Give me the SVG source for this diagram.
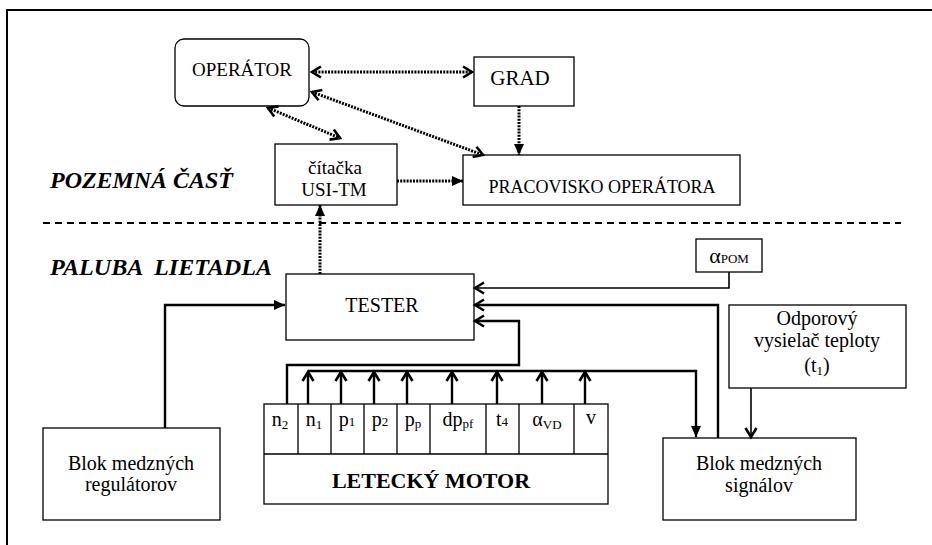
<svg xmlns="http://www.w3.org/2000/svg" width="932" height="545" viewBox="0 0 932 545">
<style>
text{font-family:"Liberation Serif","Times New Roman",serif;fill:#000;text-anchor:middle}
.box{fill:#fff;stroke:#000;stroke-width:1.3}
.t19{font-size:19px}
.t20{font-size:20px}
.sub{font-size:13px}
.lbl{font-size:23px;font-weight:bold;font-style:italic;text-anchor:start}
.dot{fill:none;stroke:#000;stroke-width:3;stroke-dasharray:2 1.2}
.sol{fill:none;stroke:#000;stroke-width:2.4}
.thin{fill:none;stroke:#000;stroke-width:1.6}
</style>
<defs>
<marker id="open" markerUnits="userSpaceOnUse" markerWidth="14" markerHeight="14" refX="11" refY="7" orient="auto-start-reverse" overflow="visible">
<path d="M2,1.5 L11,7 L2,12.5" fill="none" stroke="#000" stroke-width="2.6"/>
</marker>
<marker id="fill" markerUnits="userSpaceOnUse" markerWidth="12" markerHeight="10" refX="11" refY="5" orient="auto" overflow="visible">
<path d="M0,0 L11,5 L0,10 z" fill="#000"/>
</marker>
</defs>
<rect width="932" height="545" fill="#fff"/>
<path d="M7,545 L7,10 L932,10" fill="none" stroke="#000" stroke-width="2"/>
<line x1="43" y1="223" x2="901" y2="223" stroke="#000" stroke-width="2" stroke-dasharray="7 5"/>
<text class="lbl" x="50" y="188" textLength="183" lengthAdjust="spacingAndGlyphs">POZEMNÁ ČASŤ</text>
<text class="lbl" x="50" y="275" xml:space="preserve" textLength="222" lengthAdjust="spacingAndGlyphs">PALUBA  LIETADLA</text>

<g id="operator"><rect class="box" x="175" y="39" width="134" height="67" rx="9"/><text class="t19" x="242" y="76">OPERÁTOR</text></g>
<g id="grad"><rect class="box" x="474" y="57" width="100" height="49"/><text style="font-size:21px" x="520" y="85">GRAD</text></g>
<g id="citacka"><rect class="box" x="275" y="144" width="122" height="61"/><text class="t19" x="335" y="174">čítačka</text><text class="t19" x="334" y="196">USI-TM</text></g>
<g id="pracovisko"><rect class="box" x="463" y="155" width="277" height="50"/><text style="font-size:18px" x="602" y="193">PRACOVISKO OPERÁTORA</text></g>
<g id="tester"><rect class="box" x="286" y="274" width="188" height="66"/><text class="t20" x="382" y="312">TESTER</text></g>
<g id="alfa-pom"><rect class="box" x="696" y="239" width="66" height="33"/><text x="729" y="263"><tspan style="font-size:22px">α</tspan><tspan class="sub">POM</tspan></text></g>
<g id="odporovy"><rect class="box" x="729" y="305" width="177" height="83"/><text class="t20" x="817" y="325">Odporový</text><text class="t20" x="817" y="347">vysielač teploty</text><text class="t20" x="817" y="372">(t<tspan class="sub" dy="3">1</tspan><tspan dy="-3">)</tspan></text></g>
<g id="blok-regulatorov"><rect class="box" x="43" y="428" width="177" height="92"/><text class="t20" x="131" y="470">Blok medzných</text><text class="t20" x="131" y="491">regulátorov</text></g>
<g id="blok-signalov"><rect class="box" x="663" y="438" width="193" height="82"/><text class="t20" x="759" y="470">Blok medzných</text><text class="t20" x="759" y="492">signálov</text></g>
<g id="letecky-motor">
<rect class="box" x="264" y="404" width="344" height="100"/>
<path d="M264,454 H608 M298,404 V454 M331,404 V454 M364,404 V454 M397,404 V454 M430,404 V454 M486,404 V454 M519,404 V454 M574,404 V454" stroke="#000" stroke-width="1.3" fill="none"/>
<text x="431" y="488" style="font-size:22px;font-weight:bold">LETECKÝ MOTOR</text>
<text class="t20" x="280" y="426">n<tspan class="sub" dy="3">2</tspan></text>
<text class="t20" x="314" y="426">n<tspan class="sub" dy="3">1</tspan></text>
<text class="t20" x="347" y="426">p<tspan class="sub" dy="0">1</tspan></text>
<text class="t20" x="380" y="426">p<tspan class="sub" dy="0">2</tspan></text>
<text class="t20" x="413" y="426">p<tspan class="sub" dy="2">p</tspan></text>
<text class="t20" x="458" y="426">dp<tspan class="sub" dy="2">pf</tspan></text>
<text class="t20" x="502" y="426">t<tspan class="sub" dy="0">4</tspan></text>
<text class="t20" x="547" y="426">α<tspan class="sub" dy="3">VD</tspan></text>
<text class="t20" x="591" y="424">v</text>
</g>

<g id="connectors">
<line class="dot" x1="312" y1="72" x2="472" y2="72" marker-start="url(#open)" marker-end="url(#open)"/>
<line class="dot" x1="312" y1="92" x2="483" y2="155" marker-start="url(#open)" marker-end="url(#open)"/>
<line class="dot" x1="268" y1="108" x2="340" y2="138" marker-start="url(#open)" marker-end="url(#open)"/>
<line class="dot" x1="397" y1="181" x2="463" y2="181" marker-end="url(#fill)"/>
<line class="dot" x1="519" y1="106" x2="519" y2="155" marker-end="url(#fill)"/>
<line class="dot" x1="320" y1="274" x2="320" y2="205" marker-end="url(#fill)"/>
<path class="thin" d="M729,272 V288 H475" marker-end="url(#open)"/>
<path class="sol" d="M718,438 V305 H475" marker-end="url(#open)"/>
<path class="sol" d="M287,404 V365 H519 V321 H475" marker-end="url(#open)"/>
<path class="sol" d="M308,371 H696 V437" marker-end="url(#fill)"/>
<path class="sol" d="M165,428 V305 H285" marker-end="url(#fill)"/>
<path class="thin" d="M751,388 V437" marker-end="url(#open)"/>
<path class="sol" d="M308,404 V372" marker-end="url(#open)"/>
<path class="sol" d="M341,404 V372" marker-end="url(#open)"/>
<path class="sol" d="M374,404 V372" marker-end="url(#open)"/>
<path class="sol" d="M407,404 V372" marker-end="url(#open)"/>
<path class="sol" d="M452,404 V372" marker-end="url(#open)"/>
<path class="sol" d="M497,404 V372" marker-end="url(#open)"/>
<path class="sol" d="M542,404 V372" marker-end="url(#open)"/>
<path class="sol" d="M585,404 V372" marker-end="url(#open)"/>
</g>
</svg>
